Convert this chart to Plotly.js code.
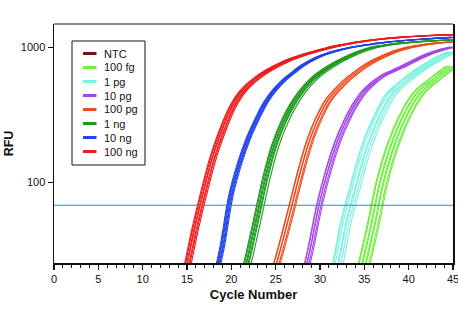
<!DOCTYPE html>
<html><head><meta charset="utf-8">
<script src="https://cdn.plot.ly/plotly-3.0.1.min.js"></script>
<style>html,body{margin:0;padding:0;background:#fff}#chart{width:458px;height:335px}</style>
</head><body><div id="chart"></div>
<script>
// ---- data ----
const seriesNames  = ["NTC", "100 fg", "1 pg", "10 pg", "100 pg", "1 ng", "10 ng", "100 ng"];
const seriesColors = ["#7a1414", "#6cf03a", "#78f2de", "#a646ea", "#f04c1c", "#1e9a1e", "#2244ea", "#f01a1a"];

// first cycle of each RFU array
const startCycles = [0, 34, 31, 28, 24, 21, 18, 14];

const ntcRFU   = [6,6,6,6,6,6,6,6,6,6,6,6,6,6,6,6,6,6,6,6,6,6,6,6,6,6,6,6,6,7,7,7,7,7,7,7,7,7,7,7,7,7,7,7,7,7];
const fg100RFU = [14,25,48,100,170,255,350,447,520,585,660,730];
const pg1RFU   = [13,24,52,92,160,245,340,447,520,590,660,730,800,870,930];
const pg10RFU  = [17,33,70,125,200,285,380,470,545,610,660,705,760,820,880,930,975,1010];
const pg100RFU = [14,23,40,72,130,215,310,410,490,570,645,720,790,850,910,960,1000,1030,1055,1075,1090,1100];
const ng1RFU   = [15,28,55,110,190,280,375,470,560,640,710,780,840,900,955,1000,1030,1055,1075,1090,1105,1115,1125,1133,1140];
const ng10RFU  = [17,33,80,140,215,300,400,490,575,650,730,800,860,910,950,985,1015,1040,1065,1085,1105,1120,1135,1148,1160,1170,1180,1190];
const ng100RFU = [12,23,47,88,155,240,345,447,530,600,665,725,780,830,875,915,955,995,1030,1060,1090,1115,1138,1158,1175,1190,1203,1214,1224,1232,1239,1245];

// replicate cycle shifts (spread of each band)
const ntcShift   = [0];
const fg100Shift = [-0.7,-0.6,-0.3,-0.2,0.1,0.2,0.5,0.65];
const pg1Shift   = [-0.65,-0.55,-0.35,-0.05,0.05,0.3,0.55];
const pg10Shift  = [-0.35,-0.3,-0.1,-0.05,0.15,0.3];
const pg100Shift = [-0.4,-0.35,-0.1,-0.05,0.2,0.35];
const ng1Shift   = [-0.45,-0.35,-0.2,-0.1,0.05,0.15,0.4];
const ng10Shift  = [-0.3,-0.2,-0.12,0,0.08,0.2];
const ng100Shift = [-0.4,-0.3,-0.15,-0.08,0.1,0.2,0.35];

const thresholdRFU = 68;
const xTickVals = [0,5,10,15,20,25,30,35,40,45];
const yTickVals = [100, 1000];
const yTickText = ["100", "1000"];

// ---- build traces ----
const rfuSets   = [ntcRFU, fg100RFU, pg1RFU, pg10RFU, pg100RFU, ng1RFU, ng10RFU, ng100RFU];
const shiftSets = [ntcShift, fg100Shift, pg1Shift, pg10Shift, pg100Shift, ng1Shift, ng10Shift, ng100Shift];

const traces = [];
rfuSets.forEach((vals, g) => {
  shiftSets[g].forEach(s => {
    traces.push({
      type: 'scatter', mode: 'lines',
      x: vals.map((_, i) => startCycles[g] + i + s),
      y: vals,
      line: {color: seriesColors[g], width: 1.1, shape: 'spline', smoothing: 1},
      showlegend: false, hoverinfo: 'skip'
    });
  });
});
traces.push({
  type: 'scatter', mode: 'lines',
  x: [xTickVals[0], xTickVals[xTickVals.length - 1]],
  y: [thresholdRFU, thresholdRFU],
  line: {color: '#3c82c4', width: 1},
  showlegend: false, hoverinfo: 'skip'
});

// ---- manual legend (compact rows) ----
const W = 458, H = 335, mL = 54, mR = 5, mT = 24, mB = 72;
const pw = W - mL - mR, ph = H - mT - mB;
const px = v => (v - mL) / pw;
const py = v => (H - mB - v) / ph;
const shapes = [
  {type: 'line', xref: 'paper', yref: 'paper', x0: 0, x1: 1, y0: 1, y1: 1,
   line: {color: '#666', width: 1.5}},
  {type: 'rect', xref: 'paper', yref: 'paper',
   x0: px(72), x1: px(145), y0: py(165), y1: py(41),
   line: {color: '#111', width: 1}, fillcolor: 'rgba(255,255,255,0)'}
];
const annotations = [];
seriesNames.forEach((n, i) => {
  const rowY = 53.5 + 14 * i;
  shapes.push({type: 'line', xref: 'paper', yref: 'paper',
    x0: px(83), x1: px(96.5), y0: py(rowY), y1: py(rowY),
    line: {color: seriesColors[i], width: 3}});
  annotations.push({xref: 'paper', yref: 'paper', x: px(101.5), y: py(rowY),
    xanchor: 'left', yanchor: 'middle', showarrow: false, text: n,
    font: {family: 'Liberation Sans, Arial, sans-serif', size: 11, color: '#111'}});
});

const font = {family: 'Liberation Sans, Arial, sans-serif', size: 11, color: '#111'};
const layout = {
  width: W, height: H,
  margin: {l: mL, r: mR, t: mT, b: mB, pad: 0},
  paper_bgcolor: '#fff', plot_bgcolor: '#fff',
  font: font, showlegend: false,
  xaxis: {
    range: [0, 45], tickvals: xTickVals, ticks: 'outside', ticklen: 5, tickwidth: 1.2,
    tickcolor: '#111', showline: true, linecolor: '#111', linewidth: 1.5, mirror: false,
    showgrid: false, zeroline: false, tickfont: font, ticklabeloverflow: 'allow',
    minor: {dtick: 1, ticks: 'outside', ticklen: 3, tickcolor: '#111', tickwidth: 1, showgrid: false},
    title: {text: 'Cycle Number', font: {family: font.family, size: 13, color: '#111', weight: 'bold'}, standoff: 6},
    automargin: false
  },
  yaxis: {
    type: 'log', range: [Math.log10(25.4), Math.log10(1496)],
    tickvals: yTickVals, ticktext: yTickText, ticks: 'outside', ticklen: 5, tickwidth: 1.2,
    tickcolor: '#111', showline: true, linecolor: '#111', linewidth: 1.5, mirror: true,
    showgrid: false, zeroline: false, tickfont: font, ticklabeloverflow: 'allow',
    title: {text: 'RFU', font: {family: font.family, size: 12.5, color: '#111', weight: 'bold'}, standoff: 4},
    automargin: false
  },
  shapes: shapes, annotations: annotations
};
Plotly.newPlot('chart', traces, layout, {staticPlot: true, displayModeBar: false});
</script></body></html>
